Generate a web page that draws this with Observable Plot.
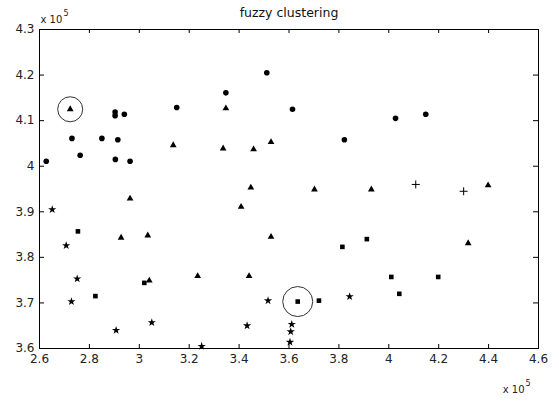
<!DOCTYPE html>
<html><head><meta charset="utf-8">
<script src="https://cdn.jsdelivr.net/npm/d3@7"></script>
<script src="https://cdn.jsdelivr.net/npm/@observablehq/plot@0.6"></script>
<style>body{margin:0;background:#fff}</style>
</head><body><div id="chart"></div>
<script>
// values in units of 10^5
const xTicks = [2.6, 2.8, 3, 3.2, 3.4, 3.6, 3.8, 4, 4.2, 4.4, 4.6];
const yTicks = [3.6, 3.7, 3.8, 3.9, 4, 4.1, 4.2, 4.3];

const circleX = [2.627, 2.73, 2.763, 2.85, 2.904, 2.914, 2.963, 2.903, 2.903, 2.94, 3.15, 3.347, 3.511, 3.614, 3.822, 4.027, 4.148];
const circleY = [4.011, 4.061, 4.024, 4.061, 4.015, 4.058, 4.011, 4.119, 4.111, 4.114, 4.129, 4.161, 4.205, 4.125, 4.058, 4.105, 4.114];

const triX = [2.723, 3.347, 3.136, 3.336, 3.458, 3.528, 2.963, 3.447, 3.702, 3.93, 4.398, 3.408, 2.927, 3.034, 3.528, 4.318, 3.04, 3.234, 3.44];
const triY = [4.125, 4.127, 4.046, 4.039, 4.037, 4.053, 3.929, 3.953, 3.949, 3.949, 3.958, 3.911, 3.843, 3.848, 3.845, 3.831, 3.749, 3.759, 3.759];

const sqX = [2.754, 3.814, 3.912, 3.02, 2.824, 3.635, 3.72, 4.01, 4.198, 4.042];
const sqY = [3.857, 3.823, 3.840, 3.744, 3.715, 3.703, 3.705, 3.757, 3.757, 3.720];

const starX = [2.651, 2.707, 2.751, 2.728, 3.05, 2.907, 3.516, 3.843, 3.432, 3.611, 3.607, 3.604, 3.25];
const starY = [3.905, 3.826, 3.753, 3.703, 3.657, 3.640, 3.705, 3.714, 3.650, 3.653, 3.637, 3.614, 3.605];

const plusX = [4.108, 4.30];
const plusY = [3.960, 3.945];

const centerX = [2.723, 3.635];
const centerY = [4.125, 3.703];
const centerR = [12.5, 15];

const pts = (xs, ys) => xs.map((x, i) => ({x, y: ys[i]}));
const centers = centerX.map((x, i) => ({x, y: centerY[i], r: centerR[i]}));

const chart = Plot.plot({
  width: 559, height: 401,
  marginLeft: 39, marginRight: 21, marginTop: 29, marginBottom: 53,
  x: {domain: [2.6, 4.6]},
  y: {domain: [3.6, 4.3]},
  r: {type: "identity"},
  style: {fontFamily: "DejaVu Sans", fontSize: "12px", background: "white", color: "#222"},
  marks: [
    Plot.frame({stroke: "black"}),
    Plot.axisX({ticks: xTicks, anchor: "bottom", tickSize: 0, tickPadding: 6, tickFormat: d => String(d), label: null, fontSize: 12}),
    Plot.axisY({ticks: yTicks, anchor: "left", tickSize: 0, tickPadding: 5, tickFormat: d => String(d), label: null, fontSize: 12}),
    Plot.tickX(xTicks, {x: d => d, insetTop: 315, stroke: "black"}),
    Plot.tickX(xTicks, {x: d => d, insetBottom: 315, stroke: "black"}),
    Plot.tickY(yTicks, {y: d => d, insetRight: 494, stroke: "black"}),
    Plot.tickY(yTicks, {y: d => d, insetLeft: 494, stroke: "black"}),
    Plot.dot(pts(circleX, circleY), {x: "x", y: "y", symbol: "circle", r: 2.8, fill: "black"}),
    Plot.dot(pts(triX, triY), {x: "x", y: "y", symbol: "triangle", r: 2.5, fill: "black"}),
    Plot.dot(pts(sqX, sqY), {x: "x", y: "y", symbol: "square", r: 2.6, fill: "black"}),
    Plot.dot(pts(starX, starY), {x: "x", y: "y", symbol: "star", r: 2.6, fill: "black"}),
    Plot.dot(pts(plusX, plusY), {x: "x", y: "y", symbol: "plus", r: 2.7, stroke: "black", strokeWidth: 1}),
    Plot.dot(centers, {x: "x", y: "y", r: "r", fill: "none", stroke: "#333", strokeWidth: 1}),
    Plot.text(["fuzzy clustering"], {frameAnchor: "top", dy: -17, lineAnchor: "middle", fontSize: 12.5, fill: "#111"}),
    Plot.text(["x 10"], {frameAnchor: "top-left", textAnchor: "start", lineAnchor: "bottom", dx: 1, dy: -7, fontSize: 10, fill: "#222"}),
    Plot.text(["5"], {frameAnchor: "top-left", textAnchor: "start", lineAnchor: "bottom", dx: 24, dy: -14, fontSize: 8, fill: "#222"}),
    Plot.text(["x 10"], {frameAnchor: "bottom-right", textAnchor: "end", lineAnchor: "bottom", dx: -14, dy: 44, fontSize: 10, fill: "#222"}),
    Plot.text(["5"], {frameAnchor: "bottom-right", textAnchor: "start", lineAnchor: "bottom", dx: -13, dy: 37, fontSize: 8, fill: "#222"})
  ]
});
document.getElementById("chart").appendChild(chart);
</script></body></html>
